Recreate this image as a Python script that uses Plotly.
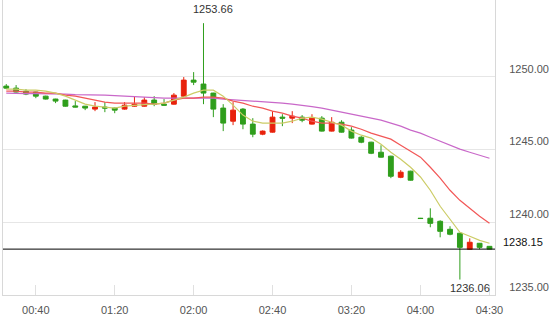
import plotly.graph_objects as go

# ---- data ----
idx = list(range(50))
opens = [1249.34, 1249.20, 1248.99, 1248.93, 1248.65, 1248.45, 1248.38, 1247.98, 1247.96, 1247.76,
         1247.90, 1247.83, 1247.76, 1247.96, 1247.96, 1248.38, 1248.10, 1248.10, 1248.65, 1249.75,
         1249.48, 1248.86, 1247.83, 1246.93, 1247.76, 1246.73, 1246.04, 1246.18, 1247.21, 1247.14,
         1247.21, 1246.73, 1247.14, 1246.25, 1246.86, 1246.32, 1245.83, 1245.49, 1244.80, 1244.53,
         1243.08, 1243.50, 1240.27, 1240.27, 1240.06, 1239.51, 1239.24, 1238.14, 1238.55, 1238.34]
highs = [1249.48, 1249.41, 1249.13, 1248.95, 1248.68, 1248.47, 1248.40, 1248.31, 1247.98, 1248.24,
         1248.24, 1247.86, 1248.24, 1248.65, 1248.58, 1248.65, 1248.45, 1248.86, 1249.96, 1250.30,
         1253.66, 1248.88, 1248.10, 1248.24, 1247.83, 1247.14, 1246.30, 1247.62, 1247.41, 1247.62,
         1247.35, 1247.41, 1247.28, 1247.21, 1247.00, 1246.52, 1245.90, 1245.52, 1245.28, 1244.56,
         1243.57, 1243.53, 1240.29, 1240.95, 1240.13, 1239.72, 1239.26, 1238.89, 1238.57, 1238.36]
lows = [1249.13, 1248.90, 1248.72, 1248.51, 1248.42, 1248.17, 1247.93, 1247.88, 1247.69, 1247.62,
        1247.55, 1247.48, 1247.72, 1247.93, 1247.93, 1247.96, 1248.00, 1248.07, 1248.62, 1249.41,
        1248.10, 1247.21, 1246.25, 1246.66, 1246.38, 1245.83, 1245.97, 1246.15, 1246.59, 1246.80,
        1246.86, 1246.70, 1246.22, 1246.22, 1246.15, 1245.74, 1245.42, 1244.67, 1244.43, 1243.02,
        1243.02, 1242.85, 1240.25, 1239.65, 1238.96, 1239.10, 1236.06, 1238.12, 1238.14, 1238.15]
closes = [1249.20, 1248.93, 1248.79, 1248.65, 1248.45, 1248.31, 1247.96, 1247.90, 1247.83, 1247.90,
          1247.83, 1247.69, 1248.03, 1248.10, 1248.38, 1248.10, 1248.03, 1248.72, 1249.75, 1249.61,
          1248.86, 1247.76, 1246.80, 1247.69, 1246.73, 1246.04, 1246.25, 1247.21, 1247.14, 1247.28,
          1247.00, 1247.14, 1246.25, 1246.86, 1246.18, 1245.77, 1245.49, 1244.73, 1244.46, 1243.15,
          1243.43, 1242.88, 1240.25, 1239.92, 1239.37, 1239.17, 1238.27, 1238.62, 1238.27, 1238.15]

ma_fast = [1249.13, 1249.13, 1249.06, 1249.06, 1248.99, 1248.86, 1248.65, 1248.38, 1248.10, 1247.96,
           1247.90, 1247.83, 1247.96, 1248.03, 1248.07, 1248.10, 1248.17, 1248.38, 1248.58, 1248.86,
           1249.06, 1249.06, 1248.65, 1248.03, 1247.35, 1246.93, 1246.80, 1246.80, 1246.80, 1246.93,
           1247.14, 1247.21, 1247.07, 1246.86, 1246.66, 1246.25, 1245.97, 1245.77, 1245.35, 1244.80,
           1244.32, 1243.77, 1243.10, 1242.19, 1241.09, 1240.20, 1239.30, 1239.03, 1238.75, 1238.55]
ma_mid = [1249.00, 1249.00, 1248.93, 1248.93, 1248.86, 1248.86, 1248.72, 1248.65, 1248.51, 1248.38,
          1248.24, 1248.17, 1248.17, 1248.17, 1248.17, 1248.10, 1248.17, 1248.38, 1248.51, 1248.51,
          1248.58, 1248.58, 1248.51, 1248.31, 1248.17, 1247.96, 1247.83, 1247.62, 1247.48, 1247.28,
          1247.14, 1246.93, 1246.80, 1246.80, 1246.73, 1246.59, 1246.38, 1246.11, 1245.90, 1245.70,
          1245.28, 1244.87, 1244.46, 1243.77, 1243.02, 1242.19, 1241.50, 1240.95, 1240.40, 1239.92]
ma_slow = [1248.86, 1248.82, 1248.82, 1248.82, 1248.82, 1248.82, 1248.79, 1248.76, 1248.76, 1248.76,
           1248.72, 1248.69, 1248.65, 1248.62, 1248.58, 1248.55, 1248.51, 1248.51, 1248.51, 1248.51,
           1248.51, 1248.51, 1248.45, 1248.41, 1248.38, 1248.31, 1248.27, 1248.24, 1248.17, 1248.10,
           1248.03, 1247.93, 1247.83, 1247.69, 1247.55, 1247.41, 1247.28, 1247.14, 1247.00, 1246.80,
           1246.59, 1246.32, 1246.11, 1245.83, 1245.56, 1245.28, 1245.01, 1244.80, 1244.60, 1244.39]

tick_pos = [3, 11, 19, 27, 35, 42, 49]
tick_text = ["00:40", "01:20", "02:00", "02:40", "03:20", "04:00", "04:30"]
y_ticks = [1235, 1240, 1245, 1250]
last_price = 1238.15
max_idx, max_val = 20, 1253.66
min_idx, min_val = 46, 1236.06

UP = "#e8220c"
DOWN = "#2f9e1c"
FONT = "Liberation Sans"

fig = go.Figure()
fig.add_trace(go.Candlestick(
    x=idx, open=opens, high=highs, low=lows, close=closes,
    increasing=dict(line=dict(color=UP, width=1), fillcolor=UP),
    decreasing=dict(line=dict(color=DOWN, width=1), fillcolor=DOWN),
    whiskerwidth=0, showlegend=False, hoverinfo="skip"))
fig.add_trace(go.Scatter(x=idx, y=ma_slow, mode="lines", line=dict(color="#c968c9", width=1.2),
                         showlegend=False, hoverinfo="skip"))
fig.add_trace(go.Scatter(x=idx, y=ma_mid, mode="lines", line=dict(color="#f25757", width=1.2),
                         showlegend=False, hoverinfo="skip"))
fig.add_trace(go.Scatter(x=idx, y=ma_fast, mode="lines", line=dict(color="#cccc66", width=1.2),
                         showlegend=False, hoverinfo="skip"))

fig.add_shape(type="line", xref="paper", x0=0, x1=1, yref="y", y0=last_price, y1=last_price,
              line=dict(color="#000000", width=1))

fig.add_annotation(x=max_idx, y=max_val, text=f"{max_val:.2f}", showarrow=False,
                   yanchor="bottom", xshift=10, yshift=6,
                   font=dict(family=FONT, size=11, color="#333333"))
fig.add_annotation(x=min_idx, y=min_val, text=f"{min_val:.2f}", showarrow=False,
                   yanchor="top", xshift=10, yshift=0,
                   font=dict(family=FONT, size=11, color="#333333"))
fig.add_annotation(xref="paper", x=1, y=last_price, text=f"{last_price:.2f}", showarrow=False,
                   xanchor="left", yanchor="bottom", xshift=6, yshift=-1,
                   font=dict(family=FONT, size=11, color="#111111"))

fig.update_layout(
    width=550, height=318,
    margin=dict(l=3, r=55, t=0, b=23),
    paper_bgcolor="white", plot_bgcolor="white",
    showlegend=False,
    xaxis=dict(range=[-0.33, 49.56], rangeslider=dict(visible=False),
               tickvals=tick_pos, ticktext=tick_text,
               ticks="inside", ticklen=10, tickcolor="#e0e0e0",
               showline=True, linecolor="#d8d8d8", showgrid=False, zeroline=False,
               tickfont=dict(family=FONT, size=11, color="#555555"), ticklabelstandoff=5),
    yaxis=dict(side="right", range=[1235, 1255.25], tickvals=y_ticks,
               ticktext=[f"{v:.2f}" for v in y_ticks],
               ticklabelposition="outside top", ticks="",
               showline=True, mirror=True, linecolor="#d8d8d8",
               showgrid=True, gridcolor="#e6e6e6", zeroline=False,
               tickfont=dict(family=FONT, size=11, color="#555555"), ticklabelstandoff=11),
)

fig.write_html("out.html")
